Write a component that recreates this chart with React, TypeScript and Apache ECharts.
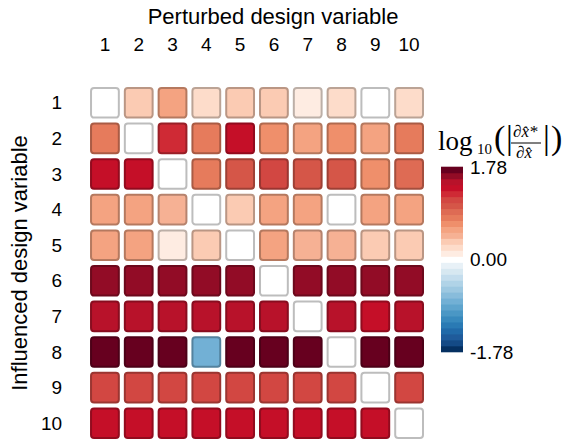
import React, { useEffect, useRef } from "react";
import * as echarts from "echarts";

const columns = ["1", "2", "3", "4", "5", "6", "7", "8", "9", "10"];
const rows = ["1", "2", "3", "4", "5", "6", "7", "8", "9", "10"];

// log10(|d x*/d x|), row = influenced variable, column = perturbed variable
const r1 = [0, 0.35, 0.55, 0.28, 0.36, 0.36, 0.12, 0.24, 0.02, 0.2];
const r2 = [0.8, 0, 1.27, 0.8, 1.38, 0.68, 0.56, 0.68, 0.62, 0.78];
const r3 = [1.37, 1.36, 0, 0.8, 1.04, 1.12, 1.02, 1.08, 0.68, 0.9];
const r4 = [0.57, 0.57, 0.46, 0, 0.33, 0.57, 0.6, 0.03, 0.57, 0.57];
const r5 = [0.57, 0.6, 0.14, 0.33, 0, 0.6, 0.46, 0.46, 0.35, 0.33];
const r6 = [1.6, 1.6, 1.6, 1.6, 1.6, 0, 1.6, 1.6, 1.6, 1.6];
const r7 = [1.48, 1.48, 1.5, 1.48, 1.47, 1.48, 0, 1.48, 1.4, 1.48];
const r8 = [1.72, 1.72, 1.72, -0.8, 1.72, 1.72, 1.72, 0.02, 1.72, 1.72];
const r9 = [1.12, 1.12, 1.12, 1.12, 1.12, 1.12, 1.12, 1.12, 0, 1.12];
const r10 = [1.37, 1.37, 1.37, 1.37, 1.37, 1.37, 1.37, 1.37, 1.37, 0];
const matrix = [r1, r2, r3, r4, r5, r6, r7, r8, r9, r10];

const vMin = -1.78;
const vMax = 1.78;
const colorbarTicks = [-1.78, 0, 1.78];

// discrete RdBu_r-like palette, 31 levels from low to high
const palette = [
  "#053061", "#144a86", "#1f5b9b", "#216aa9", "#2a7ab4", "#3889bd", "#4a97c5", "#5ea4cd",
  "#72b0d5", "#88bcdb", "#9dc8e1", "#b0d3e7", "#c4dded", "#d7e8f1", "#e8f1f7",
  "#ffffff",
  "#feece2", "#fddcca", "#fbcbb3", "#f6b194", "#f4a381", "#ef8f6b", "#e67b5c", "#de6b54",
  "#d55648", "#d24742", "#cf2a35", "#c50f28", "#b8122a", "#920c26", "#67001f",
];

const levelOf = (v: number) => {
  const n = palette.length;
  let i = Math.floor(((v - vMin) / (vMax - vMin)) * n);
  if (i < 0) i = 0;
  if (i > n - 1) i = n - 1;
  return i;
};

const darken = (hex: string, f = 0.74) => {
  const r = Math.round(parseInt(hex.slice(1, 3), 16) * f);
  const g = Math.round(parseInt(hex.slice(3, 5), 16) * f);
  const b = Math.round(parseInt(hex.slice(5, 7), 16) * f);
  return `rgb(${r},${g},${b})`;
};

const SANS = "Liberation Sans, Arial, Helvetica, sans-serif";
const SERIF = "Liberation Serif, DejaVu Serif, serif";

export default function App() {
  const ref = useRef<HTMLDivElement>(null);

  useEffect(() => {
    if (!ref.current) return;
    const chart = echarts.init(ref.current, undefined, { renderer: "svg" });

    const cells: number[][] = [];
    matrix.forEach((row, ri) => row.forEach((v, ci) => cells.push([ci, ri, v])));

    const n = palette.length;
    const step = (vMax - vMin) / n;
    const levels = palette.map((_, i) => [vMin + i * step, vMin + (i + 1) * step, i]);

    chart.setOption({
      animation: false,
      backgroundColor: "#ffffff",
      textStyle: { fontFamily: SANS },
      grid: [
        { left: 88, top: 78, width: 338, height: 363 },
        { left: 441, top: 167, width: 22, height: 185 },
      ],
      xAxis: [
        {
          type: "category",
          gridIndex: 0,
          data: columns,
          position: "top",
          axisLine: { show: false },
          axisTick: { show: false },
          axisLabel: { fontSize: 19, color: "#000", margin: 31, fontFamily: SANS },
          name: "Perturbed design variable",
          nameLocation: "middle",
          nameGap: 58,
          nameTextStyle: { fontSize: 22, color: "#000", fontFamily: SANS, padding: [0, 0, 0, 32] },
        },
        { type: "value", gridIndex: 1, min: 0, max: 1, show: false },
      ],
      yAxis: [
        {
          type: "category",
          gridIndex: 0,
          data: rows,
          inverse: true,
          axisLine: { show: false },
          axisTick: { show: false },
          axisLabel: { fontSize: 19, color: "#000", margin: 26, fontFamily: SANS },
          name: "Influenced design variable",
          nameLocation: "middle",
          nameGap: 55,
          nameTextStyle: { fontSize: 22, color: "#000", fontFamily: SANS },
        },
        {
          type: "value",
          gridIndex: 1,
          min: vMin,
          max: vMax,
          interval: vMax,
          position: "right",
          axisLine: { show: false },
          axisTick: { show: false },
          splitLine: { show: false },
          axisLabel: {
            fontSize: 19,
            color: "#000",
            margin: 7,
            fontFamily: SANS,
            formatter: (v: number) => {
              const t = colorbarTicks.find((x) => Math.abs(x - v) < 1e-6);
              return t === undefined ? "" : t.toFixed(2);
            },
          },
        },
      ],
      series: [
        {
          type: "custom",
          xAxisIndex: 0,
          yAxisIndex: 0,
          data: cells,
          renderItem: (_p: any, api: any) => {
            const c = api.coord([api.value(0), api.value(1)]);
            const s = api.size([1, 1]);
            const w = s[0] - 6;
            const h = s[1] - 6;
            const fill = palette[levelOf(api.value(2))];
            return {
              type: "rect",
              shape: { x: c[0] - w / 2, y: c[1] - h / 2, width: w, height: h, r: 3 },
              style: { fill, stroke: darken(fill), lineWidth: 2 },
            };
          },
        },
        {
          type: "custom",
          xAxisIndex: 1,
          yAxisIndex: 1,
          data: levels,
          renderItem: (_p: any, api: any) => {
            const p1 = api.coord([0, api.value(1)]);
            const p2 = api.coord([1, api.value(0)]);
            return {
              type: "rect",
              shape: { x: p1[0], y: p1[1] - 0.3, width: p2[0] - p1[0], height: p2[1] - p1[1] + 0.6 },
              style: { fill: palette[api.value(2)], stroke: null },
            };
          },
        },
      ],
      graphic: [
        { type: "text", left: 438, top: 127, style: { text: "log", font: `27px ${SERIF}`, fill: "#000" } },
        { type: "text", left: 477, top: 141, style: { text: "10", font: `15px ${SERIF}`, lineHeight: 15, fill: "#000" } },
        { type: "text", left: 494, top: 120, style: { text: "(", font: `34px ${SERIF}`, fill: "#000" } },
        { type: "text", left: 506, top: 120, style: { text: "|", font: `34px ${SERIF}`, fill: "#000" } },
        { type: "text", left: 513, top: 123, style: { text: "\u2202x\u0302*", font: `italic 17px ${SERIF}`, fill: "#000" } },
        { type: "line", shape: { x1: 511, y1: 143, x2: 541, y2: 143 }, style: { stroke: "#000", lineWidth: 1 } },
        { type: "text", left: 516, top: 144, style: { text: "\u2202x\u0302", font: `italic 17px ${SERIF}`, fill: "#000" } },
        { type: "text", left: 543, top: 120, style: { text: "|", font: `34px ${SERIF}`, fill: "#000" } },
        { type: "text", left: 551, top: 120, style: { text: ")", font: `34px ${SERIF}`, fill: "#000" } },
      ],
    });

    return () => chart.dispose();
  }, []);

  return (
    <div
      ref={ref}
      style={{ position: "absolute", left: 0, top: 0, width: 564, height: 446 }}
    />
  );
}
